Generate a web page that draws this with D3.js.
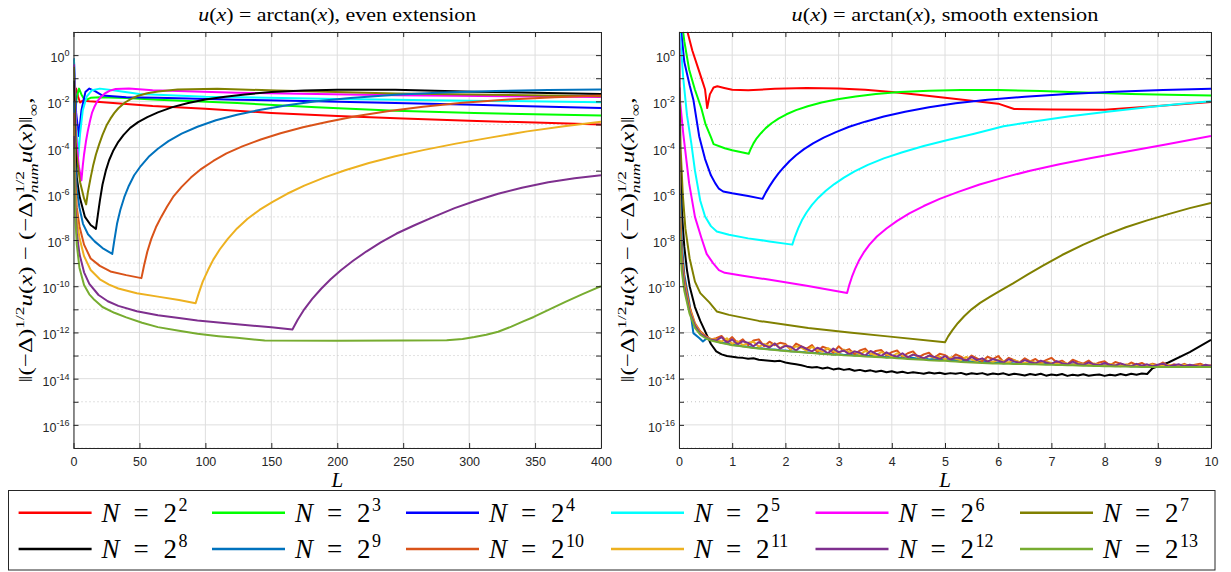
<!DOCTYPE html>
<html lang="en">
<head>
<meta charset="utf-8">
<title>arctan: even vs smooth extension</title>
<script src="https://cdn.jsdelivr.net/npm/d3@7"></script>
<style>
  body { margin: 0; background: #fff; }
  svg { display: block; }
  .axis text { font-family: "Liberation Sans", Arial, sans-serif; font-size: 12.5px; fill: #262626; }
  .axis path, .axis line { stroke: #262626; }
</style>
</head>
<body>
<script>

// legend exponents (N = 2^k) and MATLAB line colours
var Nexp = [2, 3, 4, 5, 6, 7, 8, 9, 10, 11, 12, 13];
var lineColors = ["#ff0000", "#00ff00", "#0000ff", "#00ffff", "#ff00ff", "#808000",
                  "#000000", "#0072bd", "#d95319", "#edb120", "#7e2f8e", "#77ac30"];

// tick values
var leftTicks = [0, 50, 100, 150, 200, 250, 300, 350, 400];
var rightTicks = [0, 1, 2, 3, 4, 5, 6, 7, 8, 9, 10];
var yMajorExp = [-16, -14, -12, -10, -8, -6, -4, -2, 0];
var yMinorExp = [-17, -15, -13, -11, -9, -7, -5, -3, -1, 1];

var SERIF = '"Liberation Serif", "DejaVu Serif", "Times New Roman", serif';

// ---- left panel: even extension, [L, log10(error)] ----
var even4 = [[0.3,-1.3],[1,-1.6],[2,-1.45],[3.5,-1.8],[5,-2.05],[7,-1.97],[12,-2.0],[20,-2.03],[30,-2.07],[60,-2.2],[100,-2.32],[150,-2.5],[200,-2.63],[250,-2.74],[300,-2.84],[350,-2.92],[400,-3.0]];
var even8 = [[0.3,-0.6],[1.5,-2.4],[2.5,-1.8],[4.2,-1.45],[6,-1.7],[8,-1.9],[10,-1.93],[13,-1.85],[20,-1.82],[40,-1.86],[64,-1.93],[124,-2.07],[184,-2.26],[244,-2.41],[304,-2.51],[400,-2.61]];
var even16 = [[0.3,-0.15],[2,-2.5],[4,-3.5],[6,-2.4],[9,-1.6],[12,-1.45],[16,-1.55],[22,-1.75],[40,-1.82],[64,-1.85],[124,-1.93],[184,-2.0],[244,-2.07],[304,-2.15],[400,-2.29]];
var even32 = [[0.3,-0.15],[1.5,-2.6],[3.6,-4.4],[5,-3.4],[7,-2.4],[10,-1.8],[14,-1.52],[20,-1.45],[30,-1.52],[50,-1.68],[100,-1.8],[200,-1.9],[300,-1.97],[400,-2.04]];
var even64 = [[0.3,-0.4],[2,-3.5],[4,-4.8],[6,-5.42],[7,-4.8],[8,-4.3],[9.4,-3.75],[10.8,-3.3],[12.5,-2.85],[14,-2.5],[16,-2.22],[18,-2.0],[21,-1.8],[24,-1.65],[28,-1.53],[32,-1.47],[42,-1.45],[60,-1.52],[124,-1.63],[244,-1.74],[400,-1.81]];
var even128 = [[0.3,-0.5],[2,-4.2],[5,-5.5],[8,-6.2],[9.6,-6.46],[11,-5.9],[13,-5.3],[15,-4.75],[17,-4.3],[19.5,-3.85],[22,-3.45],[25,-3.05],[28,-2.75],[31,-2.5],[34,-2.3],[39,-2.05],[44,-1.88],[49,-1.76],[56,-1.65],[64,-1.57],[79,-1.49],[109,-1.46],[154,-1.53],[244,-1.66],[400,-1.78]];
var even256 = [[0.3,-1.1],[1,-3.6],[2.5,-5.3],[4.5,-6.1],[8.7,-7.0],[13,-7.35],[17,-7.52],[18.5,-6.9],[20,-6.3],[22,-5.6],[24.5,-5.0],[27,-4.55],[30,-4.15],[34,-3.75],[38,-3.45],[43,-3.15],[49,-2.9],[56,-2.68],[64,-2.48],[75,-2.25],[87,-2.07],[100,-1.92],[115,-1.8],[130,-1.7],[150,-1.6],[175,-1.53],[200,-1.5],[244,-1.5],[304,-1.58],[400,-1.68]];
var even512 = [[0.3,-2.0],[1,-4.4],[2.5,-5.8],[4.5,-6.6],[7.2,-7.3],[11,-7.75],[16,-8.06],[22,-8.35],[29.4,-8.6],[31,-8.0],[33,-7.3],[35.5,-6.7],[38.5,-6.15],[42,-5.65],[46,-5.2],[51,-4.8],[57,-4.4],[64,-4.05],[72,-3.72],[82,-3.4],[94,-3.1],[108,-2.82],[124,-2.58],[142,-2.36],[162,-2.17],[184,-2.0],[210,-1.86],[244,-1.72],[280,-1.62],[320,-1.55],[360,-1.51],[400,-1.49]];
var even1024 = [[0.3,-2.5],[1,-5.0],[2.5,-6.6],[4.5,-7.4],[8,-8.2],[13,-8.8],[20,-9.12],[28,-9.36],[40,-9.52],[51.5,-9.65],[53.5,-9.1],[56,-8.5],[59,-7.95],[62.5,-7.45],[66.5,-7.0],[71,-6.55],[76,-6.1],[82,-5.7],[89,-5.3],[97,-4.92],[106,-4.58],[116,-4.25],[128,-3.95],[142,-3.65],[157,-3.38],[174,-3.12],[193,-2.88],[214,-2.65],[238,-2.43],[265,-2.23],[295,-2.06],[330,-1.92],[365,-1.82],[400,-1.75]];
var even2048 = [[0.3,-3.0],[1,-5.5],[2.5,-7.1],[4.5,-7.9],[8,-8.7],[13,-9.3],[20,-9.7],[27,-9.93],[34,-10.1],[48,-10.3],[64,-10.45],[80,-10.6],[92.6,-10.74],[95,-10.3],[98,-9.8],[102,-9.3],[106,-8.85],[111,-8.4],[117,-7.95],[124,-7.5],[132,-7.08],[141,-6.7],[151,-6.35],[162,-6.0],[175,-5.65],[190,-5.3],[206,-4.98],[224,-4.67],[244,-4.38],[266,-4.1],[290,-3.83],[316,-3.57],[344,-3.3],[372,-3.08],[400,-2.88]];
var even4096 = [[0.3,-3.5],[1,-6.0],[2.5,-7.7],[4.5,-8.6],[8,-9.4],[12,-9.9],[19,-10.38],[26,-10.65],[34,-10.85],[48,-11.08],[64,-11.26],[80,-11.38],[94,-11.48],[124,-11.65],[150,-11.78],[166,-11.87],[170,-11.45],[175,-11.0],[181,-10.55],[188,-10.1],[195,-9.7],[203,-9.3],[212,-8.9],[222,-8.5],[233,-8.1],[245,-7.72],[259,-7.35],[274,-6.98],[289,-6.62],[305,-6.3],[322,-6.0],[340,-5.74],[360,-5.5],[380,-5.33],[400,-5.2]];
var even8192 = [[0.3,-4.0],[1,-6.6],[2.5,-8.2],[4.5,-9.2],[8,-9.95],[12,-10.35],[16,-10.6],[22,-10.9],[31,-11.15],[40,-11.35],[52,-11.58],[64,-11.77],[80,-11.93],[94,-12.06],[110,-12.16],[124,-12.23],[145,-12.35],[200,-12.36],[250,-12.35],[283,-12.34],[295,-12.28],[304,-12.2],[313,-12.1],[322,-11.97],[332,-11.75],[341,-11.52],[349,-11.33],[361,-11.0],[373,-10.68],[386,-10.34],[400,-10.0]];

// ---- right panel: smooth extension, [L, log10(error)] ----
var smooth4 = [[0.12,1.5],[0.16,1.0],[0.25,0.2],[0.35,-0.5],[0.45,-1.2],[0.49,-1.49],[0.53,-2.29],[0.58,-1.7],[0.65,-1.4],[0.72,-1.35],[0.85,-1.42],[1.0,-1.5],[1.3,-1.52],[1.8,-1.46],[2.4,-1.42],[3.0,-1.44],[3.5,-1.5],[4.0,-1.6],[4.5,-1.72],[5.0,-1.85],[5.5,-1.97],[6.0,-2.1],[6.3,-2.33],[7.0,-2.35],[8.0,-2.36],[9.0,-2.2],[10,-2.03]];
var smooth8 = [[0.05,1.5],[0.1,0.6],[0.19,-0.62],[0.3,-1.5],[0.42,-2.3],[0.5,-3.0],[0.6,-3.55],[0.65,-3.85],[0.86,-4.03],[1.0,-4.12],[1.31,-4.27],[1.35,-4.05],[1.4,-3.82],[1.46,-3.6],[1.54,-3.38],[1.63,-3.16],[1.74,-2.95],[1.87,-2.75],[2.02,-2.56],[2.2,-2.38],[2.42,-2.21],[2.68,-2.05],[2.98,-1.91],[3.32,-1.79],[3.7,-1.68],[4.15,-1.6],[4.7,-1.54],[5.3,-1.51],[6.0,-1.51],[6.8,-1.55],[7.64,-1.62],[8.5,-1.68],[9.2,-1.72],[10,-1.75]];
var smooth16 = [[0.02,1.5],[0.1,-0.3],[0.2,-1.3],[0.27,-1.93],[0.38,-3.52],[0.49,-4.5],[0.6,-5.2],[0.68,-5.54],[0.75,-5.78],[0.83,-5.9],[1.0,-5.98],[1.3,-6.1],[1.57,-6.22],[1.63,-5.95],[1.7,-5.68],[1.78,-5.4],[1.87,-5.12],[1.97,-4.85],[2.08,-4.58],[2.2,-4.33],[2.35,-4.07],[2.52,-3.82],[2.72,-3.57],[2.95,-3.33],[3.2,-3.1],[3.5,-2.88],[3.85,-2.66],[4.25,-2.45],[4.7,-2.26],[5.2,-2.08],[5.8,-1.93],[6.5,-1.8],[7.3,-1.68],[8.2,-1.58],[9.1,-1.51],[10,-1.46]];
var smooth32 = [[0.01,1.2],[0.08,-1.0],[0.15,-2.6],[0.23,-3.8],[0.3,-5.0],[0.4,-6.3],[0.49,-6.98],[0.6,-7.4],[0.71,-7.63],[0.94,-7.77],[1.3,-7.93],[1.7,-8.06],[2.13,-8.2],[2.18,-7.85],[2.24,-7.5],[2.31,-7.15],[2.4,-6.8],[2.5,-6.48],[2.62,-6.17],[2.76,-5.87],[2.92,-5.58],[3.1,-5.3],[3.3,-5.03],[3.55,-4.75],[3.85,-4.47],[4.2,-4.2],[4.6,-3.93],[5.05,-3.67],[5.55,-3.4],[6.1,-3.08],[6.7,-2.86],[7.35,-2.65],[8.05,-2.45],[8.8,-2.26],[9.4,-2.12],[10,-2.0]];
var smooth64 = [[0.005,0.8],[0.02,-2.0],[0.08,-3.4],[0.19,-5.54],[0.3,-7.0],[0.42,-7.9],[0.52,-8.6],[0.64,-9.0],[0.75,-9.3],[0.86,-9.42],[1.2,-9.55],[1.68,-9.71],[2.4,-9.98],[3.16,-10.29],[3.2,-9.95],[3.25,-9.6],[3.31,-9.25],[3.38,-8.9],[3.47,-8.55],[3.58,-8.2],[3.72,-7.85],[3.9,-7.5],[4.1,-7.17],[4.33,-6.85],[4.6,-6.53],[4.9,-6.22],[5.25,-5.92],[5.65,-5.6],[6.1,-5.3],[6.6,-5.0],[7.15,-4.72],[7.75,-4.45],[8.4,-4.18],[9.15,-3.87],[10,-3.5]];
var smooth128 = [[0.005,0.3],[0.01,-1.5],[0.03,-4.0],[0.07,-6.0],[0.12,-7.5],[0.2,-8.8],[0.3,-9.8],[0.4,-10.3],[0.57,-10.7],[0.71,-11.09],[0.94,-11.24],[1.5,-11.5],[2.43,-11.81],[3.2,-12.0],[3.92,-12.17],[5.0,-12.42],[5.06,-12.17],[5.14,-11.9],[5.24,-11.6],[5.36,-11.3],[5.5,-11.0],[5.66,-10.72],[5.85,-10.45],[6.05,-10.18],[6.28,-9.88],[6.55,-9.5],[6.85,-9.1],[7.2,-8.65],[7.6,-8.2],[8.0,-7.8],[8.4,-7.45],[8.8,-7.15],[9.2,-6.88],[9.6,-6.62],[10,-6.4]];

// round-off plateau: L grid and read-off values
var noiseL = [0.7,0.8,0.9,1.0,1.1,1.2,1.3,1.4,1.5,1.6,
  1.7,1.8,1.9,2.0,2.1,2.2,2.3,2.4,2.5,2.6,
  2.7,2.8,2.9,3.0,3.1,3.2,3.3,3.4,3.5,3.6,
  3.7,3.8,3.9,4.0,4.1,4.2,4.3,4.4,4.5,4.6,
  4.7,4.8,4.9,5.0,5.1,5.2,5.3,5.4,5.5,5.6,
  5.7,5.8,5.9,6.0,6.1,6.2,6.3,6.4,6.5,6.6,
  6.7,6.8,6.9,7.0,7.1,7.2,7.3,7.4,7.5,7.6,
  7.7,7.8,7.9,8.0,8.1,8.2,8.3,8.4,8.5,8.6,
  8.7,8.8,8.9,9.0,9.1,9.2,9.3,9.4,9.5,9.6,
  9.7,9.8,9.9,10.0];

var smooth256Head = [[0.005,-1.4],[0.01,-3.8],[0.03,-5.5],[0.06,-7.0],[0.1,-8.3],[0.15,-9.3],[0.2,-10.0],[0.3,-10.9],[0.4,-11.5],[0.5,-12.0],[0.6,-12.5],[0.7,-12.82],[0.8,-12.95],[0.9,-13.02],[1.0,-13.05]];
var smooth256Noise = [-13.08,-13.10,-13.14,-13.12,-13.18,-13.20,-13.22,-13.25,-13.23,-13.30,
  -13.34,-13.38,-13.42,-13.48,-13.52,-13.50,-13.56,-13.52,-13.60,-13.56,
  -13.62,-13.58,-13.66,-13.62,-13.68,-13.64,-13.70,-13.66,-13.72,-13.68,
  -13.74,-13.70,-13.76,-13.72,-13.75,-13.79,-13.73,-13.78,-13.74,-13.80,
  -13.76,-13.79,-13.75,-13.82,-13.77,-13.80,-13.76,-13.83,-13.78,-13.81,
  -13.77,-13.84,-13.79,-13.82,-13.86,-13.80,-13.84,-13.79,-13.87,-13.82,
  -13.85,-13.80,-13.88,-13.83,-13.86,-13.81,-13.87,-13.84,-13.82,-13.88,
  -13.83,-13.86,-13.80,-13.85,-13.79,-13.83,-13.78,-13.80];
var smooth256Tail = [[8.9,-13.55],[9.2,-13.3],[9.6,-12.85],[10,-12.32]];

var smooth512Head = [[0.003,-2.9],[0.01,-5.0],[0.05,-8.0],[0.1,-9.5],[0.19,-10.66],[0.27,-12.03],[0.38,-12.24],[0.45,-12.39],[0.53,-12.24],[0.62,-12.3]];
var smooth512Noise = [-12.38,-12.45,-12.48,-12.53,-12.56,-12.60,-12.62,-12.66,-12.68,-12.70,
  -12.73,-12.74,-12.77,-12.78,-12.81,-12.82,-12.85,-12.86,-12.88,-12.89,
  -12.92,-12.90,-12.95,-12.93,-12.98,-12.96,-13.00,-12.98,-13.02,-13.00,
  -13.05,-13.03,-13.07,-13.05,-13.10,-13.08,-13.12,-13.10,-13.14,-13.12,
  -13.17,-13.15,-13.19,-13.17,-13.22,-13.18,-13.24,-13.22,-13.27,-13.25,
  -13.29,-13.28,-13.31,-13.30,-13.33,-13.31,-13.34,-13.33,-13.35,-13.30,
  -13.36,-13.35,-13.37,-13.34,-13.39,-13.37,-13.40,-13.38,-13.41,-13.39,
  -13.42,-13.40,-13.43,-13.42,-13.44,-13.43,-13.45,-13.44,-13.46,-13.45,
  -13.47,-13.46,-13.48,-13.47,-13.48,-13.49,-13.48,-13.50,-13.49,-13.50,
  -13.49,-13.50,-13.49,-13.50];

var smooth1024Head = [[0.003,-3.5],[0.01,-6.0],[0.05,-8.5],[0.1,-9.7],[0.2,-10.9],[0.3,-11.6],[0.4,-11.95],[0.5,-12.15],[0.6,-12.3]];
var smooth1024Noise = [-12.25,-12.15,-12.40,-12.20,-12.45,-12.30,-12.55,-12.35,-12.30,-12.60,
  -12.40,-12.55,-12.45,-12.50,-12.75,-12.48,-12.60,-12.70,-12.55,-12.85,
  -12.62,-12.70,-12.88,-12.60,-12.80,-12.72,-12.95,-12.78,-12.70,-12.95,
  -12.80,-12.76,-13.00,-12.85,-12.78,-13.05,-12.90,-12.82,-13.08,-12.95,
  -12.88,-13.10,-12.92,-12.98,-13.15,-12.95,-13.05,-13.20,-13.00,-13.12,
  -13.25,-13.05,-13.15,-13.02,-13.28,-13.10,-13.20,-13.30,-13.12,-13.25,
  -13.15,-13.32,-13.20,-13.10,-13.30,-13.22,-13.38,-13.18,-13.28,-13.35,
  -13.22,-13.40,-13.30,-13.25,-13.42,-13.28,-13.35,-13.45,-13.30,-13.40,
  -13.32,-13.45,-13.35,-13.42,-13.30,-13.46,-13.38,-13.44,-13.36,-13.47,
  -13.40,-13.35,-13.46,-13.42];

var smooth2048Head = [[0.003,-4.0],[0.01,-6.5],[0.05,-8.8],[0.1,-9.9],[0.2,-11.0],[0.3,-11.65],[0.4,-12.0],[0.5,-12.2],[0.6,-12.28]];
var smooth2048Noise = [-12.30,-12.40,-12.25,-12.50,-12.38,-12.55,-12.45,-12.40,-12.62,-12.50,
  -12.58,-12.48,-12.68,-12.55,-12.72,-12.60,-12.66,-12.80,-12.62,-12.76,
  -12.84,-12.68,-12.80,-12.90,-12.74,-12.86,-12.82,-12.96,-12.80,-12.92,
  -13.00,-12.85,-12.94,-13.04,-12.90,-13.00,-13.08,-12.95,-13.06,-13.12,
  -13.02,-13.10,-13.05,-13.16,-13.08,-13.14,-13.20,-13.06,-13.18,-13.24,
  -13.14,-13.22,-13.28,-13.18,-13.25,-13.30,-13.20,-13.28,-13.33,-13.24,
  -13.30,-13.36,-13.26,-13.32,-13.38,-13.30,-13.35,-13.40,-13.32,-13.38,
  -13.42,-13.34,-13.40,-13.44,-13.36,-13.42,-13.46,-13.38,-13.44,-13.40,
  -13.46,-13.42,-13.38,-13.47,-13.43,-13.40,-13.46,-13.44,-13.40,-13.47,
  -13.43,-13.45,-13.41,-13.46];

var smooth4096Head = [[0.003,-4.5],[0.01,-7.0],[0.05,-9.0],[0.1,-10.0],[0.2,-11.1],[0.3,-11.7],[0.4,-12.05],[0.5,-12.2],[0.6,-12.32]];
var smooth4096Noise = [-12.35,-12.20,-12.45,-12.30,-12.52,-12.38,-12.45,-12.60,-12.42,-12.55,
  -12.65,-12.48,-12.70,-12.58,-12.62,-12.78,-12.60,-12.72,-12.82,-12.66,
  -12.75,-12.90,-12.70,-12.85,-12.78,-12.95,-12.82,-12.88,-13.00,-12.80,
  -12.92,-13.02,-12.86,-12.98,-13.05,-12.90,-13.08,-12.96,-13.02,-13.12,
  -13.00,-13.06,-13.15,-13.02,-13.18,-13.08,-13.12,-13.22,-13.06,-13.20,
  -13.12,-13.26,-13.15,-13.22,-13.30,-13.16,-13.25,-13.32,-13.20,-13.28,
  -13.34,-13.22,-13.30,-13.36,-13.24,-13.33,-13.38,-13.26,-13.36,-13.40,
  -13.30,-13.38,-13.42,-13.32,-13.40,-13.44,-13.34,-13.42,-13.46,-13.36,
  -13.44,-13.38,-13.46,-13.40,-13.35,-13.47,-13.42,-13.38,-13.46,-13.40,
  -13.44,-13.48,-13.40,-13.45];

var smooth8192Head = [[0.003,-5.0],[0.01,-7.5],[0.05,-9.3],[0.1,-10.2],[0.2,-11.2],[0.3,-11.8],[0.4,-12.1],[0.5,-12.25],[0.6,-12.35]];
var smooth8192Noise = [-12.40,-12.46,-12.50,-12.55,-12.58,-12.61,-12.64,-12.67,-12.69,-12.72,
  -12.74,-12.76,-12.78,-12.80,-12.82,-12.84,-12.86,-12.88,-12.89,-12.91,
  -12.93,-12.94,-12.96,-12.97,-12.99,-13.00,-13.01,-13.02,-13.04,-13.05,
  -13.06,-13.07,-13.09,-13.10,-13.12,-13.13,-13.15,-13.16,-13.17,-13.18,
  -13.20,-13.21,-13.22,-13.23,-13.25,-13.26,-13.28,-13.29,-13.30,-13.31,
  -13.32,-13.33,-13.34,-13.34,-13.35,-13.35,-13.36,-13.36,-13.37,-13.38,
  -13.38,-13.39,-13.40,-13.40,-13.41,-13.41,-13.42,-13.42,-13.43,-13.44,
  -13.44,-13.45,-13.45,-13.46,-13.46,-13.47,-13.47,-13.47,-13.48,-13.48,
  -13.49,-13.49,-13.49,-13.50,-13.50,-13.50,-13.50,-13.50,-13.50,-13.50,
  -13.50,-13.50,-13.50,-13.50];

// pair a noise list with its L grid
function onGrid(grid, vals) { return vals.map(function(v, i) { return [grid[i], v]; }); }

var evenSeries = [even4, even8, even16, even32, even64, even128,
                  even256, even512, even1024, even2048, even4096, even8192];
var smoothSeries = [smooth4, smooth8, smooth16, smooth32, smooth64, smooth128,
  smooth256Head.concat(onGrid(noiseL.slice(4, 82), smooth256Noise), smooth256Tail),
  smooth512Head.concat(onGrid(noiseL, smooth512Noise)),
  smooth1024Head.concat(onGrid(noiseL, smooth1024Noise)),
  smooth2048Head.concat(onGrid(noiseL, smooth2048Noise)),
  smooth4096Head.concat(onGrid(noiseL, smooth4096Noise)),
  smooth8192Head.concat(onGrid(noiseL, smooth8192Noise))];

//Width and height
var w = 1231;
var h = 572;
var plotTop = 32, plotBottom = 448;

var panels = [
  { x0: 73.5, x1: 601, domain: [0, 400], ticks: leftTicks, series: evenSeries,
    title: "even extension", titleW: 278, ylabX: 25 },
  { x0: 679, x1: 1211, domain: [0, 10], ticks: rightTicks, series: smoothSeries,
    title: "smooth extension", titleW: 307, ylabX: 627 }
];

var svg = d3.select("body").append("svg")
  .attr("width", w)
  .attr("height", h);

var y = d3.scaleLog().domain([1e-17, 1e1]).range([plotBottom, plotTop]);

// write a little LaTeX-like string with tspans
function addMath(text, parts, size) {
  var shift = 0, pendingDx = 0;
  parts.forEach(function(p) {
    if (p.stack) {
      var sub = text.append("tspan").text(p.stack[1])
        .style("font-size", size * 0.7 + "px").style("font-style", "italic")
        .attr("dy", size * 0.3 - shift);
      var wSub = sub.node().getComputedTextLength();
      var sup = text.append("tspan").text(p.stack[0])
        .style("font-size", size * 0.7 + "px")
        .attr("dx", -wSub).attr("dy", -size * 0.42 - size * 0.3);
      shift = -size * 0.42;
      pendingDx = Math.max(0, wSub - sup.node().getComputedTextLength());
      return;
    }
    var target = p.sup ? -size * 0.42 : (p.sub ? size * 0.3 : 0);
    var ts = text.append("tspan").text(p.t)
      .style("font-size", (p.sup || p.sub ? size * 0.7 : size) + "px")
      .style("font-style", p.it ? "italic" : "normal")
      .attr("dy", target - shift);
    if (pendingDx) { ts.attr("dx", pendingDx); pendingDx = 0; }
    shift = target;
  });
}

var yLabelParts = [
  {t: "\u2016(\u2212\u0394)"}, {t: "1/2", sup: true}, {t: "u", it: true}, {t: "("}, {t: "x", it: true},
  {t: ") \u2212 (\u2212\u0394)"}, {stack: ["1/2", "num"]}, {t: "u", it: true}, {t: "("}, {t: "x", it: true},
  {t: ")\u2016"}, {t: "\u221e", sub: true}, {t: ","}
];

panels.forEach(function(p, pi) {
  var x = d3.scaleLinear().domain(p.domain).range([p.x0, p.x1]);
  var g = svg.append("g");

  // grid
  g.append("g").selectAll("line").data(p.ticks).join("line")
    .attr("x1", function(d) { return x(d); }).attr("x2", function(d) { return x(d); })
    .attr("y1", plotTop).attr("y2", plotBottom)
    .attr("stroke", "#dedede").attr("stroke-width", 1);
  g.append("g").selectAll("line").data(yMajorExp).join("line")
    .attr("x1", p.x0).attr("x2", p.x1)
    .attr("y1", function(d) { return y(Math.pow(10, d)); }).attr("y2", function(d) { return y(Math.pow(10, d)); })
    .attr("stroke", "#dedede").attr("stroke-width", 1);
  g.append("g").selectAll("line").data(yMinorExp).join("line")
    .attr("x1", p.x0).attr("x2", p.x1)
    .attr("y1", function(d) { return y(Math.pow(10, d)); }).attr("y2", function(d) { return y(Math.pow(10, d)); })
    .attr("stroke", "#c4c4c4").attr("stroke-width", 1).attr("stroke-dasharray", "1,3");

  // curves
  var clipId = "clip" + pi;
  svg.append("clipPath").attr("id", clipId).append("rect")
    .attr("x", p.x0).attr("y", plotTop).attr("width", p.x1 - p.x0).attr("height", plotBottom - plotTop);
  var line = d3.line()
    .x(function(d) { return x(d[0]); })
    .y(function(d) { return y(Math.pow(10, d[1])); });
  g.append("g").attr("clip-path", "url(#" + clipId + ")")
    .selectAll("path").data(p.series).join("path")
    .attr("d", line)
    .attr("fill", "none")
    .attr("stroke", function(d, i) { return lineColors[i]; })
    .attr("stroke-width", 2)
    .attr("stroke-linejoin", "round");

  // axes, ticks pointing inward on all four sides
  var yTickVals = yMinorExp.concat(yMajorExp).map(function(e) { return Math.pow(10, e); });
  g.append("g").attr("class", "axis").attr("transform", "translate(0," + plotBottom + ")")
    .call(d3.axisBottom(x).tickValues(p.ticks).tickSizeInner(-5).tickSizeOuter(0).tickPadding(9));
  g.append("g").attr("class", "axis").attr("transform", "translate(0," + plotTop + ")")
    .call(d3.axisTop(x).tickValues(p.ticks).tickSizeInner(-5).tickSizeOuter(0).tickFormat(""));
  var yAx = g.append("g").attr("class", "axis").attr("transform", "translate(" + p.x0 + ",0)")
    .call(d3.axisLeft(y).tickValues(yTickVals).tickSizeInner(-5).tickSizeOuter(0).tickFormat(""));
  g.append("g").attr("class", "axis").attr("transform", "translate(" + p.x1 + ",0)")
    .call(d3.axisRight(y).tickValues(yTickVals).tickSizeInner(-5).tickSizeOuter(0).tickFormat(""));

  yAx.selectAll(".tick").each(function(d) {
    var e = Math.round(Math.log10(d));
    if (e % 2 !== 0 || e < -16 || e > 0) return;
    var t = d3.select(this).select("text").text(null)
      .attr("x", -4).attr("dy", null).attr("y", 6.5).attr("text-anchor", "end");
    t.append("tspan").text("10");
    t.append("tspan").text(String(e)).attr("dy", -6).style("font-size", "9px");
  });

  // title
  var cx = (p.x0 + p.x1) / 2;
  var tg = svg.append("g");
  var tt = tg.append("text").style("font-family", SERIF).attr("fill", "#000").attr("text-anchor", "middle");
  addMath(tt, [{t: "u", it: true}, {t: "("}, {t: "x", it: true}, {t: ") = arctan("}, {t: "x", it: true},
               {t: "), " + p.title}], 18);
  tg.attr("transform", "translate(" + cx + ",21) scale(" + (p.titleW / tt.node().getBBox().width) + ",1)");

  // x label
  svg.append("text").style("font-family", SERIF).attr("x", cx).attr("y", 487)
    .attr("text-anchor", "middle").style("font-size", "21px").style("font-style", "italic").text("L");

  // y label
  var yg = svg.append("g");
  var yt = yg.append("text").style("font-family", SERIF).attr("fill", "#000").attr("text-anchor", "middle");
  addMath(yt, yLabelParts, 19);
  yg.attr("transform", "translate(" + (p.ylabX + 7) + "," + ((plotTop + plotBottom) / 2) + ") rotate(-90) scale(" +
    (285 / yt.node().getBBox().width) + ",1)");
});

// legend
var legColX = [18.6, 212, 406, 611, 815.5, 1020];
var legRowY = [512.7, 549];
var legend = svg.append("g");
legend.append("rect")
  .attr("x", 8.5).attr("y", 490.5).attr("width", 1206.5).attr("height", 79.5)
  .attr("fill", "#fff").attr("stroke", "#262626").attr("stroke-width", 1);
var items = legend.selectAll("g.item").data(Nexp).join("g").attr("class", "item")
  .attr("transform", function(d, i) { return "translate(" + legColX[i % 6] + "," + legRowY[Math.floor(i / 6)] + ")"; });
items.append("line").attr("x1", 0).attr("x2", 73).attr("y1", 0).attr("y2", 0)
  .attr("stroke", function(d, i) { return lineColors[i]; }).attr("stroke-width", 2.5);
items.each(function(d) {
  var t = d3.select(this).append("text").style("font-family", SERIF).attr("fill", "#000")
    .attr("y", 9).style("font-size", "27px");
  t.append("tspan").attr("x", 83).style("font-style", "italic").text("N");
  t.append("tspan").attr("x", 115).text("=");
  t.append("tspan").attr("x", 145).text("2");
  t.append("tspan").attr("x", 160).attr("dy", -11).style("font-size", "18px").text(String(d));
});

</script>
</body>
</html>
